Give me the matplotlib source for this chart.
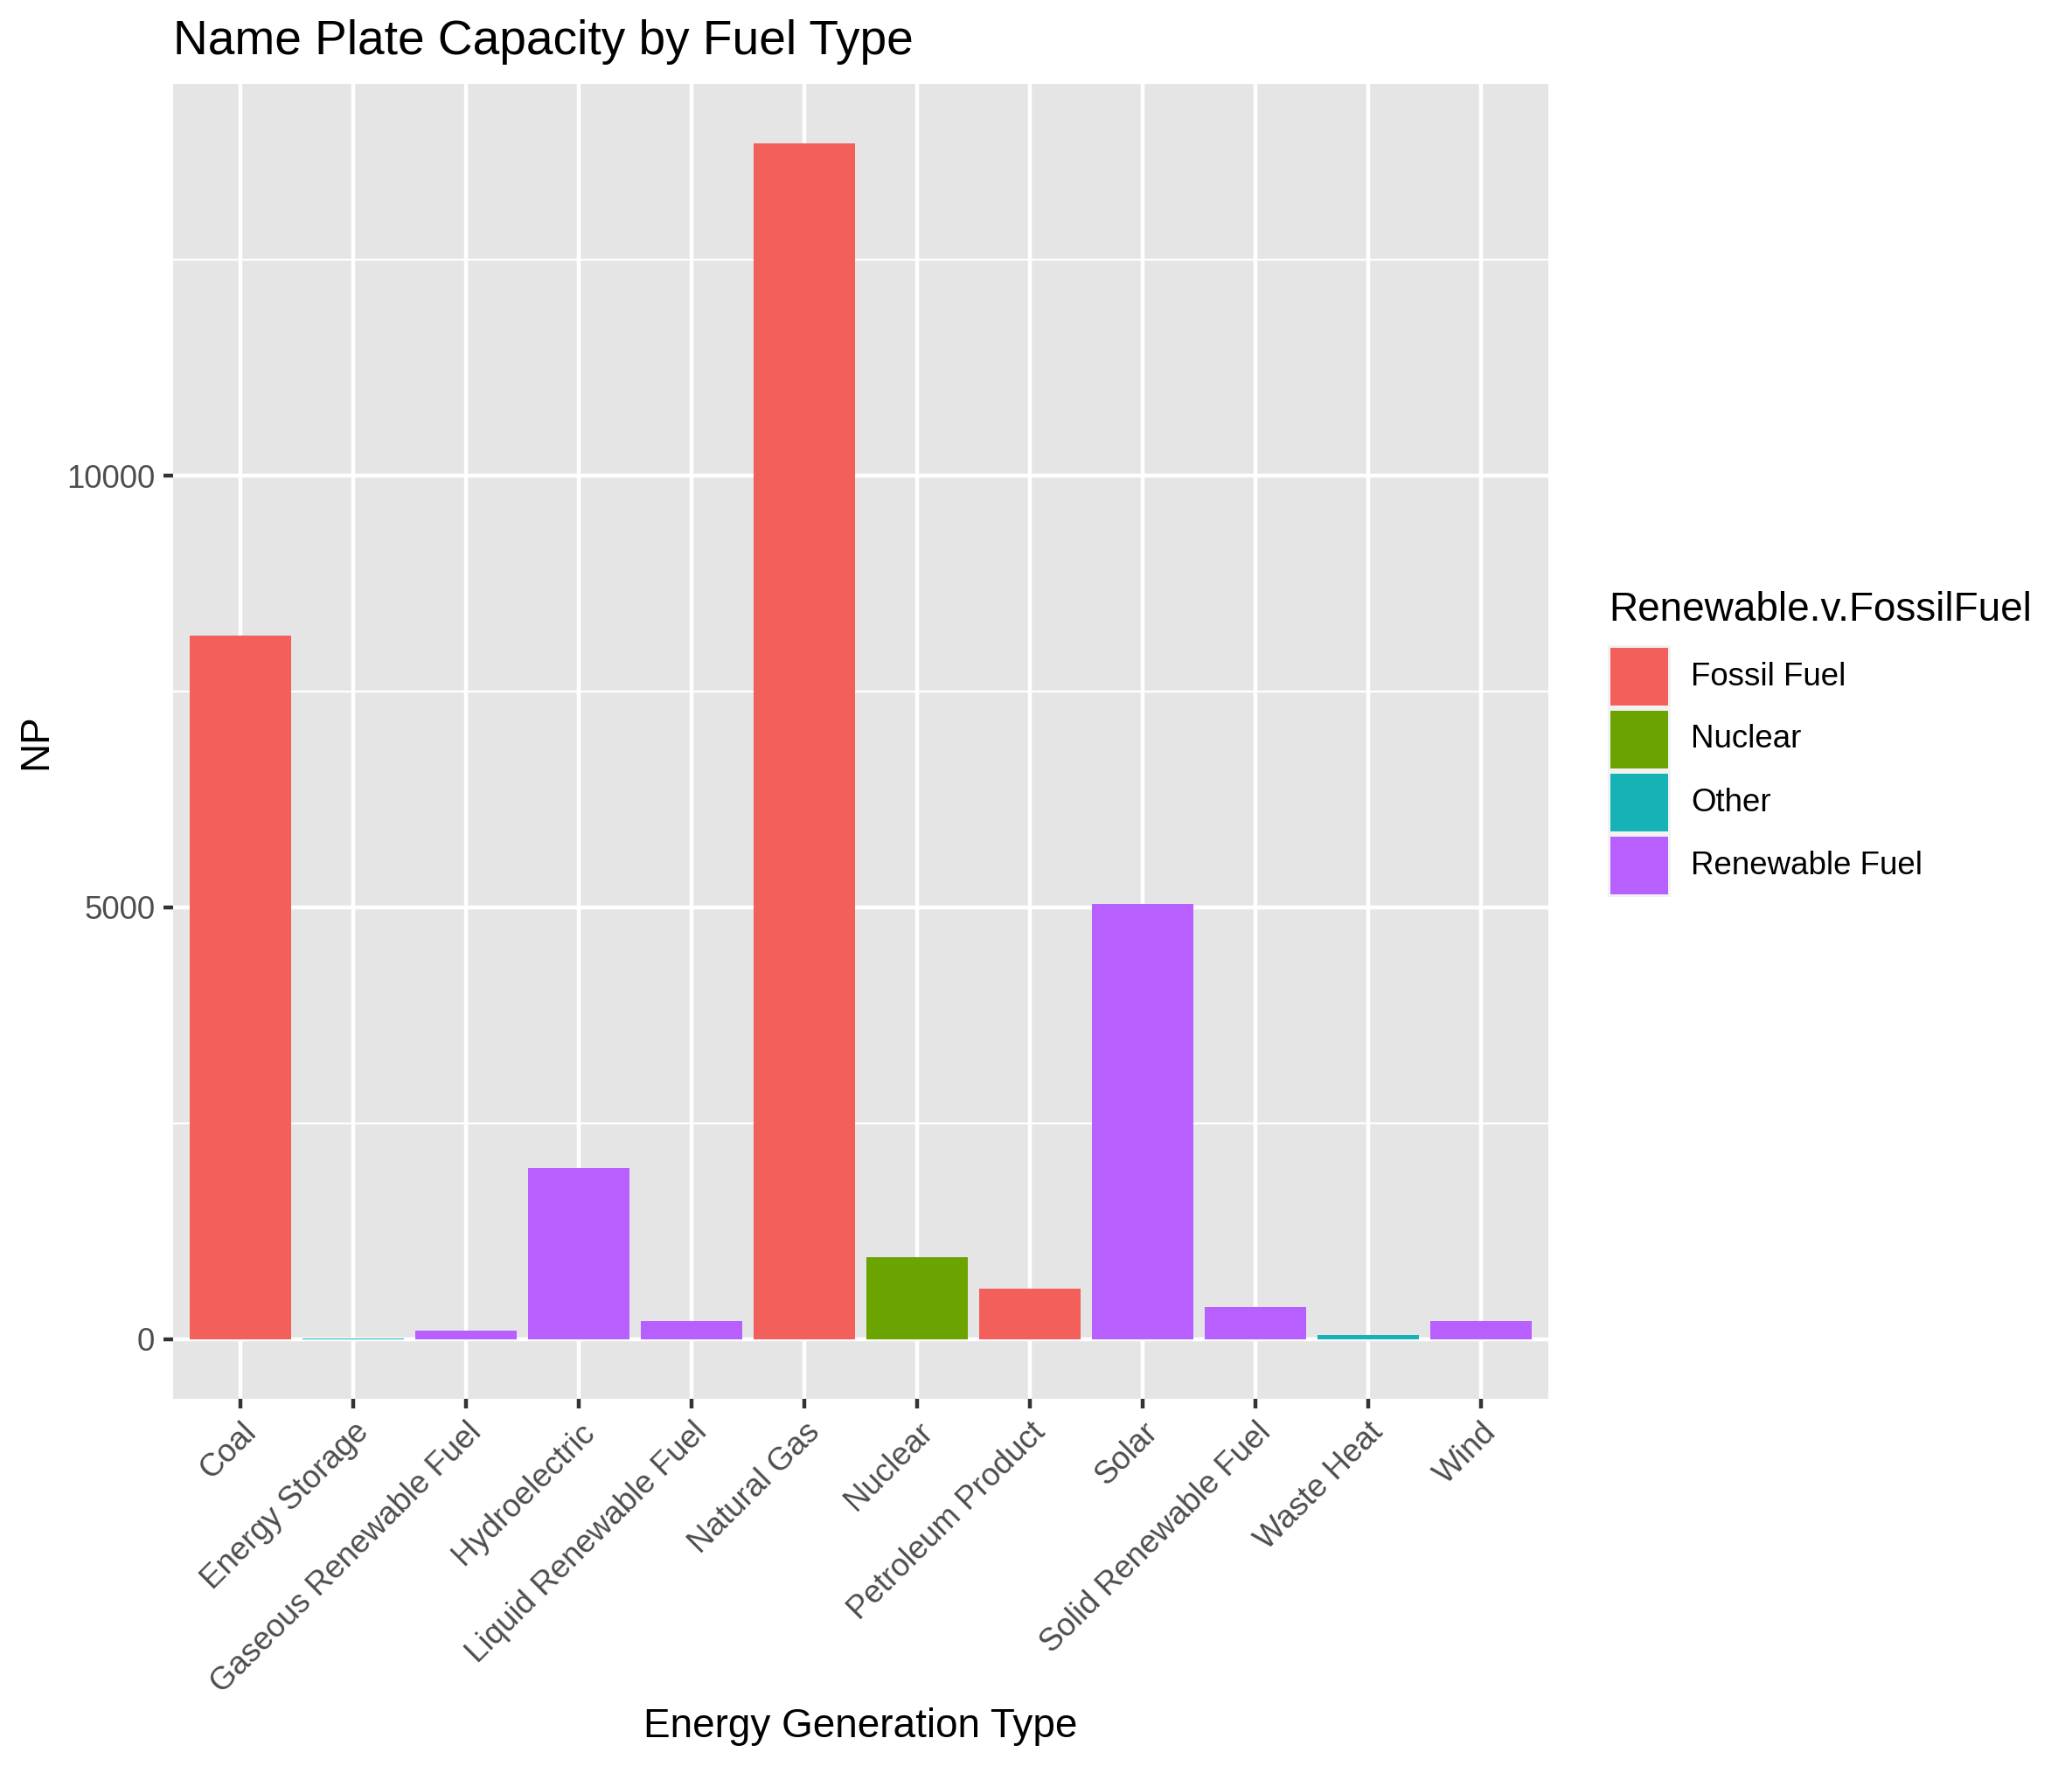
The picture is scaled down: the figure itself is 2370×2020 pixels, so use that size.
import matplotlib
matplotlib.use("Agg")
import matplotlib.pyplot as plt
from matplotlib.patches import Rectangle

plt.rcParams['font.family'] = ['Liberation Sans', 'DejaVu Sans']

# data
fuel_types = ["Coal", "Energy Storage", "Gaseous Renewable Fuel", "Hydroelectric",
              "Liquid Renewable Fuel", "Natural Gas", "Nuclear", "Petroleum Product",
              "Solar", "Solid Renewable Fuel", "Waste Heat", "Wind"]
np_capacity = [8150, 2, 100, 1980, 210, 13845, 946, 580, 5035, 375, 47, 208]
fuel_group = ["Fossil Fuel", "Other", "Renewable Fuel", "Renewable Fuel",
              "Renewable Fuel", "Fossil Fuel", "Nuclear", "Fossil Fuel",
              "Renewable Fuel", "Renewable Fuel", "Other", "Renewable Fuel"]
groups = ["Fossil Fuel", "Nuclear", "Other", "Renewable Fuel"]
group_colors = {"Fossil Fuel": "#F35F5B", "Nuclear": "#6BA300",
                "Other": "#17B2B5", "Renewable Fuel": "#B75FFF"}

W, H = 2370, 2020
fig = plt.figure(figsize=(W / 300, H / 300), dpi=300)
fig.patch.set_facecolor("white")

# panel box in pixels
pl, pr, pt, pb = 198, 1771, 96, 1600
ax = fig.add_axes([pl / W, 1 - pb / H, (pr - pl) / W, (pb - pt) / H])
ax.set_facecolor("#E5E5E5")
for s in ax.spines.values():
    s.set_visible(False)
ax.set_axisbelow(True)

x = list(range(len(fuel_types)))
colors = [group_colors[g] for g in fuel_group]
ax.bar(x, np_capacity, width=0.9, color=colors, linewidth=0, zorder=2)

ax.set_xlim(-0.6, len(fuel_types) - 0.4)
lo = min(0, min(np_capacity))
hi = max(np_capacity)
pad = 0.05 * (hi - lo)
ax.set_ylim(lo - pad, hi + pad)

ax.set_yticks([0, 5000, 10000])
ax.set_yticklabels(["0", "5000", "10000"])
ax.set_yticks([2500, 7500, 12500], minor=True)
ax.set_xticks(x)
ax.set_xticklabels(fuel_types, rotation=45, ha="right", va="top",
                   rotation_mode="anchor")

ax.grid(which="major", color="white", linewidth=1.07)
ax.grid(which="minor", axis="y", color="white", linewidth=0.53)
ax.tick_params(which="major", length=2.75, width=1.07, color="#333333",
               labelsize=8.8, labelcolor="#4D4D4D", pad=2.2)
ax.tick_params(which="minor", length=0)

# title and axis titles
fig.text(pl / W, 1 - 62 / H, "Name Plate Capacity by Fuel Type",
         fontsize=13.2, ha="left", va="baseline")
fig.text(((pl + pr) / 2) / W, 1 - 1987 / H, "Energy Generation Type",
         fontsize=11, ha="center", va="baseline")
fig.text(41 / W, 1 - ((pt + pb) / 2) / H, "NP", fontsize=11, rotation=90,
         ha="center", va="center")

# legend drawn by hand, ggplot style
fig.text(1840 / W, 1 - 710 / H, "Renewable.v.FossilFuel", fontsize=11,
         ha="left", va="baseline")
key = 72
ktop = 738
for i, g in enumerate(groups):
    y0 = ktop + key * i
    fig.add_artist(Rectangle((1839 / W, 1 - (y0 + key) / H), key / W, key / H,
                             transform=fig.transFigure, facecolor="#F2F2F2",
                             edgecolor="none"))
    fig.add_artist(Rectangle(((1839 + 3) / W, 1 - (y0 + key - 3) / H),
                             (key - 6) / W, (key - 6) / H,
                             transform=fig.transFigure,
                             facecolor=group_colors[g], edgecolor="none"))
    fig.text(1934 / W, 1 - (y0 + key / 2) / H, g, fontsize=8.8,
             ha="left", va="center")

fig.savefig("out.png", dpi=300)
